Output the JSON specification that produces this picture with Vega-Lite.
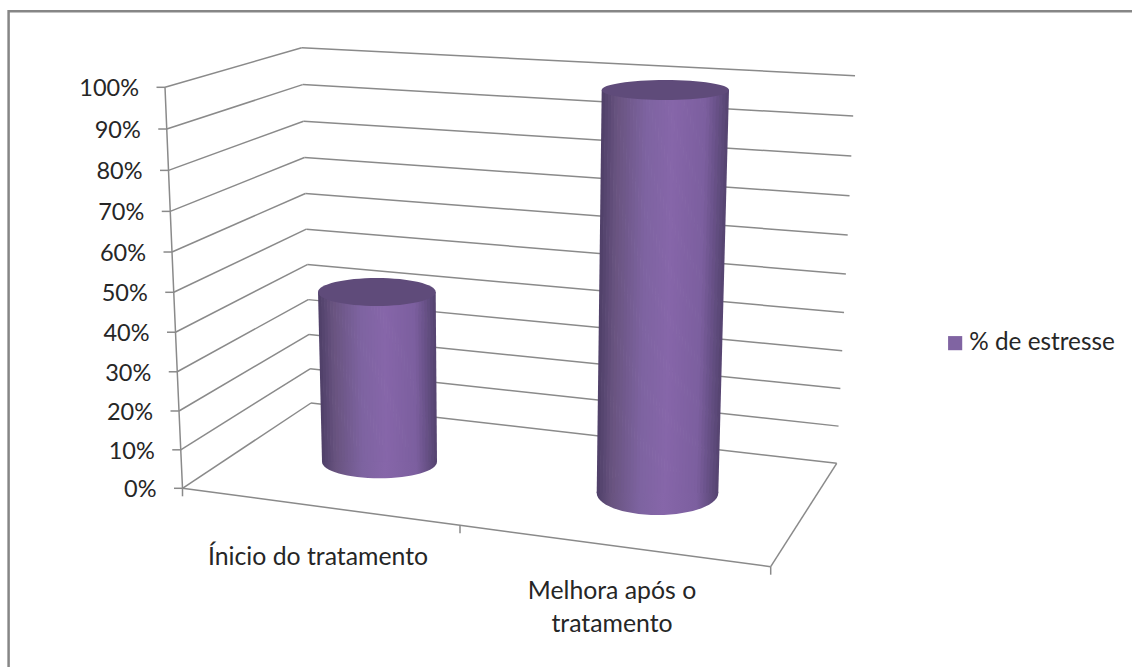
{"$schema":"https://vega.github.io/schema/vega-lite/v6.json","autosize":{"type":"none"},"padding":0,"width":1132,"height":667,"background":"#ffffff","config":{"view":{"stroke":null},"font":"Lato"},"datasets":{"bars":[{"category":"Ínicio do tratamento","value":50},{"category":"Melhora após o\ntratamento","value":100}],"levels":[{"level":0},{"level":10},{"level":20},{"level":30},{"level":40},{"level":50},{"level":60},{"level":70},{"level":80},{"level":90},{"level":100}],"edges":[{"edge":0},{"edge":1},{"edge":2}],"frame":[{"side":"top"},{"side":"left"}]},"layer":[{"data":{"name":"frame"},"transform":[{"calculate":"datum.side=='top'?8:8.6","as":"x1"},{"calculate":"datum.side=='top'?1132:8.6","as":"x2"},{"calculate":"datum.side=='top'?11.3:10","as":"y1"},{"calculate":"datum.side=='top'?11.3:667","as":"y2"}],"mark":{"type":"rule","color":"#868686","strokeWidth":2.5},"encoding":{"x":{"field":"x1","type":"quantitative","scale":{"domain":[0,1132]},"axis":null},"x2":{"field":"x2"},"y":{"field":"y1","type":"quantitative","scale":{"domain":[667,0]},"axis":null},"y2":{"field":"y2"}}},{"data":{"name":"levels"},"transform":[{"calculate":"182.5-0.175*datum.level","as":"xf"},{"calculate":"488.3-3.83*datum.level-0.0018*datum.level*datum.level","as":"yf"},{"calculate":"311-0.093*datum.level","as":"xb"},{"calculate":"403-3.4*datum.level-0.00153*datum.level*datum.level","as":"yb"}],"mark":{"type":"rule","color":"#8a8a8a","strokeWidth":1.5},"encoding":{"x":{"field":"xf","type":"quantitative","scale":{"domain":[0,1132]},"axis":null},"x2":{"field":"xb"},"y":{"field":"yf","type":"quantitative","scale":{"domain":[667,0]},"axis":null},"y2":{"field":"yb"}}},{"data":{"name":"levels"},"transform":[{"calculate":"311-0.093*datum.level","as":"xb"},{"calculate":"403-3.4*datum.level-0.00153*datum.level*datum.level","as":"yb"},{"calculate":"836.7+0.183*datum.level","as":"xr"},{"calculate":"463.3-3.7*datum.level-0.00176*datum.level*datum.level","as":"yr"}],"mark":{"type":"rule","color":"#8a8a8a","strokeWidth":1.5},"encoding":{"x":{"field":"xb","type":"quantitative","scale":{"domain":[0,1132]},"axis":null},"x2":{"field":"xr"},"y":{"field":"yb","type":"quantitative","scale":{"domain":[667,0]},"axis":null},"y2":{"field":"yr"}}},{"data":{"name":"levels"},"transform":[{"calculate":"182.5-0.175*datum.level","as":"xf"},{"calculate":"488.3-3.83*datum.level-0.0018*datum.level*datum.level","as":"yf"},{"calculate":"datum.xf-8.5","as":"xt"}],"mark":{"type":"rule","color":"#8a8a8a","strokeWidth":1.5},"encoding":{"x":{"field":"xt","type":"quantitative","scale":{"domain":[0,1132]},"axis":null},"x2":{"field":"xf"},"y":{"field":"yf","type":"quantitative","scale":{"domain":[667,0]},"axis":null}}},{"data":{"name":"levels"},"transform":[{"calculate":"182.5-0.175*datum.level","as":"xf"},{"calculate":"488.3-3.83*datum.level-0.0018*datum.level*datum.level","as":"yf"}],"mark":{"type":"line","color":"#8a8a8a","strokeWidth":1.5},"encoding":{"x":{"field":"xf","type":"quantitative","scale":{"domain":[0,1132]},"axis":null},"y":{"field":"yf","type":"quantitative","scale":{"domain":[667,0]},"axis":null},"order":{"field":"level"}}},{"data":{"name":"edges"},"transform":[{"calculate":"[182.5,460,770.7][datum.edge]","as":"xe"},{"calculate":"[488.3,525.3,566.7][datum.edge]","as":"ye"}],"mark":{"type":"line","color":"#8a8a8a","strokeWidth":1.5},"encoding":{"x":{"field":"xe","type":"quantitative","scale":{"domain":[0,1132]},"axis":null},"y":{"field":"ye","type":"quantitative","scale":{"domain":[667,0]},"axis":null},"order":{"field":"edge"}}},{"data":{"name":"edges"},"transform":[{"calculate":"[182.5,460,770.7][datum.edge]","as":"xe"},{"calculate":"[488.3,525.3,566.7][datum.edge]","as":"ye"},{"calculate":"datum.ye+8","as":"ye2"}],"mark":{"type":"rule","color":"#8a8a8a","strokeWidth":1.5},"encoding":{"x":{"field":"xe","type":"quantitative","scale":{"domain":[0,1132]},"axis":null},"y":{"field":"ye","type":"quantitative","scale":{"domain":[667,0]},"axis":null},"y2":{"field":"ye2"}}},{"data":{"name":"edges"},"transform":[{"filter":"datum.edge==2"},{"calculate":"770.7","as":"xe"},{"calculate":"566.7","as":"ye"},{"calculate":"836.7","as":"xr"},{"calculate":"463.3","as":"yr"}],"mark":{"type":"rule","color":"#8a8a8a","strokeWidth":1.5},"encoding":{"x":{"field":"xe","type":"quantitative","scale":{"domain":[0,1132]},"axis":null},"x2":{"field":"xr"},"y":{"field":"ye","type":"quantitative","scale":{"domain":[667,0]},"axis":null},"y2":{"field":"yr"}}},{"data":{"name":"levels"},"transform":[{"calculate":"182.5-0.175*datum.level-26","as":"xl"},{"calculate":"490.3-3.83*datum.level-0.0018*datum.level*datum.level","as":"yf"},{"calculate":"datum.level+'%'","as":"label"}],"mark":{"type":"text","align":"right","baseline":"middle","font":"Lato","fontSize":23.5,"color":"#262626"},"encoding":{"x":{"field":"xl","type":"quantitative","scale":{"domain":[0,1132]},"axis":null},"y":{"field":"yf","type":"quantitative","scale":{"domain":[667,0]},"axis":null},"text":{"field":"label"}}},{"data":{"name":"bars"},"transform":[{"calculate":"indexof(['Ínicio do tratamento','Melhora após o\\ntratamento'],datum.category)","as":"i"},{"calculate":"[379.5,657.5][datum.i]","as":"cx"},{"calculate":"[461.7,493][datum.i]","as":"yb"},{"calculate":"pow(2*[57.5,60.8][datum.i],2)","as":"sz"},{"calculate":"'M-1,0A1,'+[0.289,0.362][datum.i]+',0,1,0,1,0A1,'+[0.289,0.362][datum.i]+',0,1,0,-1,0Z'","as":"path"}],"mark":{"type":"point","filled":true,"opacity":1,"fill":{"gradient":"linear","x1":0,"x2":1,"y1":0,"y2":0,"stops":[{"offset":0,"color":"#4e3f68"},{"offset":0.12,"color":"#68537f"},{"offset":0.35,"color":"#7d63a0"},{"offset":0.55,"color":"#8666a9"},{"offset":0.82,"color":"#7c5f9f"},{"offset":1,"color":"#54436f"}]}},"encoding":{"x":{"field":"cx","type":"quantitative","scale":{"domain":[0,1132]},"axis":null},"y":{"field":"yb","type":"quantitative","scale":{"domain":[667,0]},"axis":null},"size":{"field":"sz","type":"quantitative","scale":null,"legend":null},"shape":{"field":"path","type":"nominal","scale":null,"legend":null}}},{"data":{"name":"bars"},"transform":[{"calculate":"indexof(['Ínicio do tratamento','Melhora após o\\ntratamento'],datum.category)","as":"i"},{"calculate":"[461.7,493][datum.i]","as":"yb"},{"calculate":"datum.yb-datum.value*[3.394,4.03][datum.i]","as":"yt"},{"fold":["yt","yb"],"as":["end","yp"]},{"calculate":"datum.end=='yt'?[318,601.7][datum.i]:[322,596.7][datum.i]","as":"xL"},{"calculate":"datum.end=='yt'?[435.7,729][datum.i]:[437,718.3][datum.i]","as":"xR"},{"calculate":"[0,1,2,3,4,5,6,7,8,9,10,11,12,13,14,15,16,17,18,19,20,21,22,23,24,25,26,27,28,29,30,31,32,33,34,35,36,37,38,39]","as":"s"},{"flatten":["s"]},{"calculate":"(datum.s+0.5)/40","as":"t"},{"calculate":"datum.xL+(datum.xR-datum.xL)*datum.s/40","as":"xl"},{"calculate":"min(datum.xR,datum.xL+(datum.xR-datum.xL)*(datum.s+1)/40+0.7)","as":"xr"}],"mark":{"type":"area","orient":"horizontal","opacity":1},"encoding":{"y":{"field":"yp","type":"quantitative","scale":{"domain":[667,0]},"axis":null},"x":{"field":"xl","type":"quantitative","scale":{"domain":[0,1132]},"axis":null},"x2":{"field":"xr"},"fill":{"field":"t","type":"quantitative","scale":{"domain":[0,0.12,0.35,0.55,0.82,1],"range":["#4e3f68","#68537f","#7d63a0","#8666a9","#7c5f9f","#54436f"]},"legend":null},"detail":[{"field":"category"},{"field":"s","type":"nominal"}]}},{"data":{"name":"bars"},"transform":[{"calculate":"indexof(['Ínicio do tratamento','Melhora após o\\ntratamento'],datum.category)","as":"i"},{"calculate":"[376.85,665.35][datum.i]","as":"cx"},{"calculate":"[461.7,493][datum.i]-datum.value*[3.394,4.03][datum.i]","as":"yt"},{"calculate":"pow(2*[58.85,63.65][datum.i],2)","as":"sz"},{"calculate":"'M-1,0A1,'+[0.238,0.157][datum.i]+',0,1,0,1,0A1,'+[0.238,0.157][datum.i]+',0,1,0,-1,0Z'","as":"path"}],"mark":{"type":"point","filled":true,"opacity":1,"fill":"#5f4b7a"},"encoding":{"x":{"field":"cx","type":"quantitative","scale":{"domain":[0,1132]},"axis":null},"y":{"field":"yt","type":"quantitative","scale":{"domain":[667,0]},"axis":null},"size":{"field":"sz","type":"quantitative","scale":null,"legend":null},"shape":{"field":"path","type":"nominal","scale":null,"legend":null}}},{"data":{"name":"bars"},"transform":[{"calculate":"indexof(['Ínicio do tratamento','Melhora após o\\ntratamento'],datum.category)","as":"i"},{"calculate":"[318,612][datum.i]","as":"cx"},{"calculate":"[565,599][datum.i]","as":"ty"}],"mark":{"type":"text","align":"center","baseline":"alphabetic","font":"Lato","fontSize":24.8,"lineBreak":"\n","lineHeight":33,"color":"#262626"},"encoding":{"x":{"field":"cx","type":"quantitative","scale":{"domain":[0,1132]},"axis":null},"y":{"field":"ty","type":"quantitative","scale":{"domain":[667,0]},"axis":null},"text":{"field":"category"}}},{"data":{"values":[{"series":"% de estresse"}]},"mark":{"type":"point","filled":true,"shape":"square","opacity":0},"encoding":{"color":{"field":"series","type":"nominal","scale":{"range":["#8064a2"]},"legend":{"title":null,"orient":"none","legendX":943,"legendY":331,"symbolType":"square","symbolSize":200,"symbolOpacity":1,"symbolStrokeWidth":0,"labelFont":"Lato","labelFontSize":24.3,"labelColor":"#262626","labelOffset":2}}}}]}
